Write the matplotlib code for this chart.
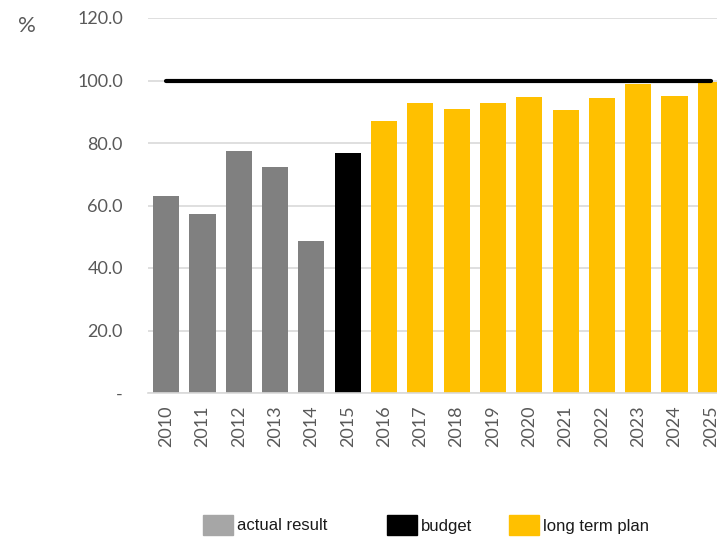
import matplotlib
matplotlib.use('Agg')
import matplotlib.pyplot as plt
from matplotlib.patches import Patch
import numpy as np

years = [str(y) for y in range(2010, 2026)]
actual = [63.0, 57.3, 77.4, 72.3, 48.6]
budget = [76.8]
plan = [87.0, 92.8, 90.9, 92.8, 94.8, 90.6, 94.4, 98.8, 95.0, 99.5]
target = [100.0] * len(years)

legend_names = ['actual result', 'budget', 'long term plan']

grey = '#808080'
grey_key = '#A6A6A6'
yellow = '#FFC000'
txt = '#595959'

fig = plt.figure(figsize=(7.17, 5.38), dpi=100)
ax = fig.add_axes([148/717, 1-393/538, (729-148)/717, (393-18)/538])

x = np.arange(len(years))
w = 0.72
ax.bar(x[:5], actual, w, color=grey, zorder=2)
ax.bar(x[5:6], budget, w, color='black', zorder=2)
ax.bar(x[6:], plan, w, color=yellow, zorder=2)
ax.plot(x, target, color='black', lw=3, solid_capstyle='round', zorder=3)

ax.set_xlim(-0.5, len(years) - 0.5)
ax.set_ylim(0, 120)
ax.set_yticks(np.arange(0, 121, 20))
ax.set_yticklabels(['-'] + ['%.1f' % v for v in np.arange(20, 121, 20)])
ax.set_xticks(x)
ax.set_xticklabels(years, rotation=90)

ax.grid(axis='y', color='#D9D9D9', lw=1.2, zorder=0)
ax.set_axisbelow(True)
for s in ['top', 'right', 'left']:
    ax.spines[s].set_visible(False)
ax.spines['bottom'].set_color('#D9D9D9')
ax.spines['bottom'].set_linewidth(1.2)
ax.tick_params(axis='y', length=0, pad=18, labelsize=13, labelcolor=txt)
ax.tick_params(axis='x', length=0, pad=9, labelsize=13, labelcolor=txt)
for lab in ax.get_xticklabels() + ax.get_yticklabels():
    lab.set_family('Lato')

fig.text(18/717, 1-26/538, '%', fontsize=16, color=txt, family='Lato', va='center')

# legend entries placed one by one (uneven gaps)
keys = [grey_key, 'black', yellow]
key_x = [203, 387, 509]
for name, c, kx in zip(legend_names, keys, key_x):
    lg = fig.legend([Patch(color=c)], [name], loc='center left',
                    bbox_to_anchor=(kx/717, 1-525/538), frameon=False,
                    borderpad=0, borderaxespad=0,
                    handlelength=1.8, handleheight=1.5, handletextpad=0.25,
                    prop={'family': 'Liberation Sans', 'size': 12})
    lg.get_texts()[0].set_color('#1A1A1A')

fig.savefig('out.png', dpi=100)
